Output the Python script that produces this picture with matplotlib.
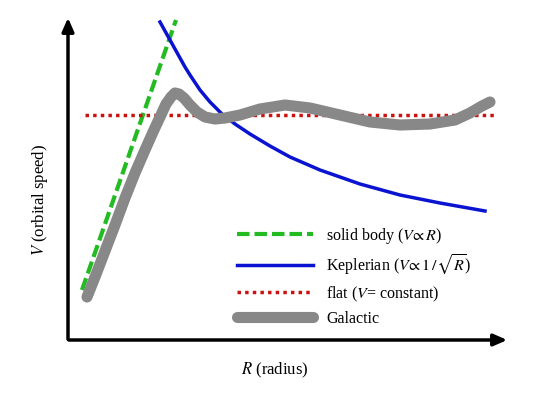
import matplotlib
matplotlib.use("Agg")
import matplotlib.pyplot as plt

plt.rcParams['font.family'] = ['Liberation Serif', 'DejaVu Serif']
plt.rcParams['mathtext.fontset'] = 'stix'

# Values read in picture units (x right, y down from top)
gal_x = [87,95,105,115,125,135,145,153,160,166,171,175,179,184,190,197,205,215,225,240,260,285,310,340,370,400,430,455,470,482,490]
gal_y = [297,277,251,225,198,173,150,132,117,104,97,93,94,98,105,112,117,119,118,115,109,105,108,115,122,125,124,120,113,106,102]
kep_x = [160,165,170,175,180,185,190,200,210,222,235,250,270,290,320,360,400,440,485]
kep_y = [22,31,40,49,58,67,75,90,102,114,124,134,146,157,170,184,195,203,211]
sol_x = [82,176]
sol_y = [290,20]
flat_x = [85,495]
flat_y = [115,115]
labels = ["solid body ($V\\!\\propto R$)", "Keplerian ($V\\!\\propto 1\\,/\\sqrt{R}$)",
          "flat ($V$= constant)", "Galactic"]

H = 400
fig = plt.figure(figsize=(5.5, 4), dpi=100)
ax = fig.add_axes([0, 0, 1, 1])
ax.set_xlim(0, 550); ax.set_ylim(0, 400); ax.axis('off')

l1, = ax.plot(sol_x, [H - v for v in sol_y], color='#22bb22', lw=3, ls=(0, (3, 1.2)))
l2, = ax.plot(kep_x, [H - v for v in kep_y], color='#0a14d0', lw=2.5)
l3, = ax.plot(flat_x, [H - v for v in flat_y], color='#cc1111', lw=2.5, ls=(0, (1, 1.2)))
l4, = ax.plot(gal_x, [H - v for v in gal_y], color='#888888', lw=8,
              solid_capstyle='round', solid_joinstyle='round')

ax.annotate('', xy=(68, 385), xytext=(68, 58),
            arrowprops=dict(arrowstyle='-|>,head_length=0.8,head_width=0.35', color='black', lw=2.5))
ax.annotate('', xy=(510, 60), xytext=(66, 60),
            arrowprops=dict(arrowstyle='-|>,head_length=0.8,head_width=0.35', color='black', lw=2.5))

ax.text(40, 200, "$V$ (orbital speed)", rotation=90, ha='center', va='center', fontsize=12)
ax.text(275, 30, "$R$ (radius)", ha='center', va='center', fontsize=12)

ax.legend([l1, l2, l3, l4], labels, loc='lower left', bbox_to_anchor=(0.41, 0.155),
          frameon=False, fontsize=11.5, handlelength=4.8, labelspacing=0.45, borderpad=0.2)

fig.savefig("out.png", dpi=100)
